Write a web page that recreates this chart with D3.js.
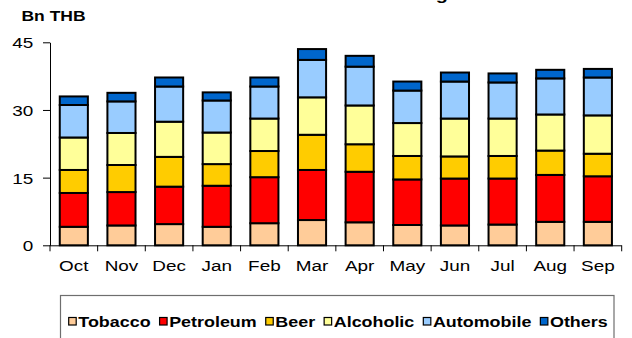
<!DOCTYPE html>
<html>
<head>
<meta charset="utf-8">
<script src="https://cdn.jsdelivr.net/npm/d3@7"></script>
<style>
  html, body { margin: 0; padding: 0; background: #fff; }
  svg { display: block; font-family: "Liberation Sans", Arial, sans-serif; }
</style>
</head>
<body>
<svg id="chart" width="632" height="338"></svg>
<script>
// Monthly excise tax collection by category, Bn THB
const months = ["Oct", "Nov", "Dec", "Jan", "Feb", "Mar", "Apr", "May", "Jun", "Jul", "Aug", "Sep"];
const seriesNames = ["Tobacco", "Petroleum", "Beer", "Alcoholic", "Automobile", "Others"];
const tobacco    = [4.1, 4.4, 4.7, 4.1, 4.9, 5.6, 5.1, 4.5, 4.4, 4.6, 5.2, 5.2];
const petroleum  = [7.5, 7.4, 8.3, 9.1, 10.2, 11.1, 11.2, 10.1, 10.4, 10.2, 10.4, 10.1];
const beer       = [5.1, 6.0, 6.6, 4.8, 5.8, 7.8, 6.1, 5.2, 4.9, 5.0, 5.4, 5.0];
const alcoholic  = [7.2, 7.1, 7.8, 7.0, 7.2, 8.3, 8.6, 7.3, 8.4, 8.3, 8.0, 8.5];
const automobile = [7.2, 7.0, 7.8, 7.1, 7.1, 8.3, 8.6, 7.2, 8.2, 8.0, 8.0, 8.4];
const others     = [1.9, 1.9, 2.0, 1.8, 2.0, 2.4, 2.4, 2.0, 2.0, 2.0, 1.9, 1.9];
const yTicks = [0, 15, 30, 45];
const colors = ["#FFCC99", "#FF0000", "#FFCC00", "#FFFF99", "#99CCFF", "#0066CC"];

const seriesValues = [tobacco, petroleum, beer, alcoholic, automobile, others];
const rows = months.map((m, i) => {
  const r = { month: m };
  seriesNames.forEach((s, k) => { r[s] = seriesValues[k][i]; });
  return r;
});

const svg = d3.select("#chart");
const plotLeft = 50, plotRight = 621.7, plotTop = 42.3, plotBottom = 245.3;

const x = d3.scaleBand().domain(months).range([plotLeft, plotRight])
  .paddingInner(0.41).paddingOuter(0.205);
const y = d3.scaleLinear().domain([0, 45]).range([plotBottom, plotTop]);
const color = d3.scaleOrdinal().domain(seriesNames).range(colors);

// text is drawn horizontally widened
const SX = 1.22;

// title (sits above the visible area)
svg.append("text")
  .attr("transform", `translate(448,0) scale(1.25,1)`)
  .attr("text-anchor", "end")
  .attr("font-weight", "bold")
  .attr("font-size", 16)
  .text("Thai Excise Tax Collection Rising");

// unit label
svg.append("text")
  .attr("transform", `translate(21.5,20.5) scale(1.25,1)`)
  .attr("font-weight", "bold")
  .attr("font-size", 14)
  .text("Bn THB");

// stacked bars
const stacked = d3.stack().keys(seriesNames)(rows);
svg.append("g")
  .selectAll("g")
  .data(stacked)
  .join("g")
    .attr("fill", d => color(d.key))
  .selectAll("rect")
  .data(d => d)
  .join("rect")
    .attr("x", d => x(d.data.month))
    .attr("width", x.bandwidth())
    .attr("y", d => y(d[1]))
    .attr("height", d => y(d[0]) - y(d[1]))
    .attr("stroke", "#000")
    .attr("stroke-width", 2);

// y axis
const yAxis = svg.append("g")
  .attr("transform", `translate(${plotLeft},0)`)
  .call(d3.axisLeft(y).tickValues(yTicks).tickSize(7).tickSizeOuter(0));
yAxis.select(".domain").attr("stroke", "#000");
yAxis.selectAll(".tick line").attr("stroke", "#000");
yAxis.selectAll(".tick text")
  .attr("x", null).attr("dy", "0.36em")
  .attr("transform", `translate(-16.7,0) scale(${SX},1)`)
  .attr("font-size", 15.5)
  .attr("font-family", "Liberation Sans, Arial, sans-serif")
  .attr("fill", "#000");

// x axis with labels centred on bands
const xAxis = svg.append("g")
  .attr("transform", `translate(0,${plotBottom})`)
  .call(d3.axisBottom(x).tickSize(0).tickSizeOuter(0));
xAxis.select(".domain").attr("stroke", "#000").attr("d", `M${plotLeft},0.5H${plotRight}`);
xAxis.selectAll(".tick text")
  .attr("y", null).attr("dy", null)
  .attr("transform", `translate(0,25.8) scale(${SX},1)`)
  .attr("font-size", 15.5)
  .attr("font-family", "Liberation Sans, Arial, sans-serif")
  .attr("fill", "#000");

// tick marks between categories
const boundaries = d3.range(months.length + 1).map(i => plotLeft + i * x.step());
xAxis.append("g")
  .selectAll("line")
  .data(boundaries)
  .join("line")
    .attr("x1", d => d).attr("x2", d => d)
    .attr("y1", 0).attr("y2", 6)
    .attr("stroke", "#000");

// legend
const legend = svg.append("g");
legend.append("rect")
  .attr("x", 60.5).attr("y", 295.5)
  .attr("width", 553.5).attr("height", 60)
  .attr("fill", "none")
  .attr("stroke", "#6e6e6e")
  .attr("stroke-width", 1.2);

const LSX = 1.28;
let cursor = 68.7;
seriesNames.forEach(name => {
  legend.append("rect")
    .attr("x", cursor).attr("y", 317.5)
    .attr("width", 7.5).attr("height", 7.5)
    .attr("fill", color(name))
    .attr("stroke", "#000")
    .attr("stroke-width", 1.2);
  const t = legend.append("text")
    .attr("transform", `translate(${cursor + 9.6},327.2) scale(${LSX},1)`)
    .attr("font-weight", "bold")
    .attr("font-size", 14)
    .text(name);
  cursor += 9.6 + t.node().getComputedTextLength() * LSX + 9;
});
</script>
</body>
</html>
